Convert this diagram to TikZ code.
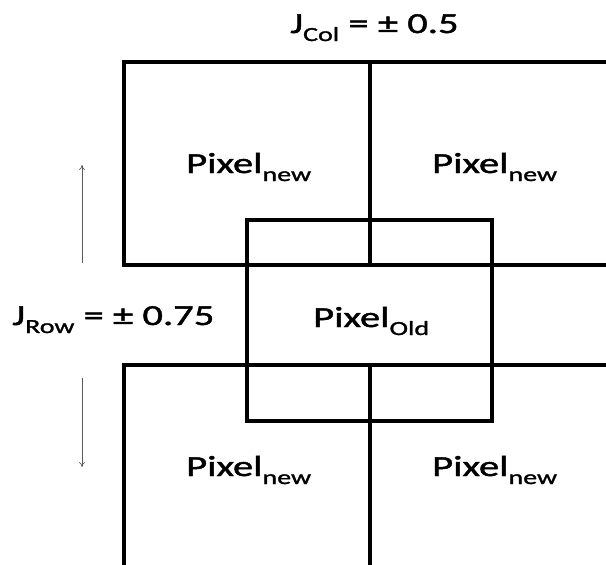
\documentclass[tikz,border=0pt]{standalone}
\usepackage{fontspec}
\usetikzlibrary{arrows.meta}
\setmainfont{Carlito}
\newfontfamily\labfont[FakeStretch=1.4,FakeBold=1.5]{Carlito}
\newcommand\sbs[1]{\raisebox{-8pt}{\fontsize{20}{20}\selectfont #1}}
\begin{document}
\begin{tikzpicture}[x=1pt,y=-1pt,
  gridline/.style={line width=3.8pt,line join=miter,line cap=rect},
  jitarrow/.style={line width=0.7pt,draw=black!65,-{To[length=5pt,width=6pt]}},
  lbl/.style={anchor=base west,inner sep=0pt,font=\labfont\fontsize{29}{29}\selectfont}]
\useasboundingbox (0,0) rectangle (606,565);
\fill[white] (0,0) rectangle (606,565);
\begin{scope}
\clip (0,0) rectangle (606,565);
% new pixels
\draw[gridline] (124,575) -- (124,365) -- (620,365);
\draw[gridline] (370,575) -- (370,365);
\draw[gridline] (124,62) -- (124,265) -- (620,265);
\draw[gridline] (124,62) -- (620,62);
\draw[gridline] (370,62) -- (370,265);
% old pixel
\draw[gridline] (247,220) rectangle (492,421);
\end{scope}
% labels
\node[lbl] (tl) at (186,173) {Pixel\sbs{new}};
\node[lbl] (tr) at (432,173) {Pixel\sbs{new}};
\node[lbl] (bl) at (186,476) {Pixel\sbs{new}};
\node[lbl] (br) at (432,476) {Pixel\sbs{new}};
\node[lbl] (old) at (313,327) {Pixel\sbs{Old}};
\node[lbl] (jrow) at (12,325) {J\sbs{Row} = ± 0.75};
\node[lbl] (jcol) at (290,33) {J\sbs{Col} = ± 0.5};
% row jitter arrows
\coordinate (upA) at (82,263);
\coordinate (upB) at (82,165);
\coordinate (dnA) at (82,378);
\coordinate (dnB) at (82,467);
\draw[jitarrow] (upA) -- (upB);
\draw[jitarrow] (dnA) -- (dnB);
\end{tikzpicture}
\end{document}
